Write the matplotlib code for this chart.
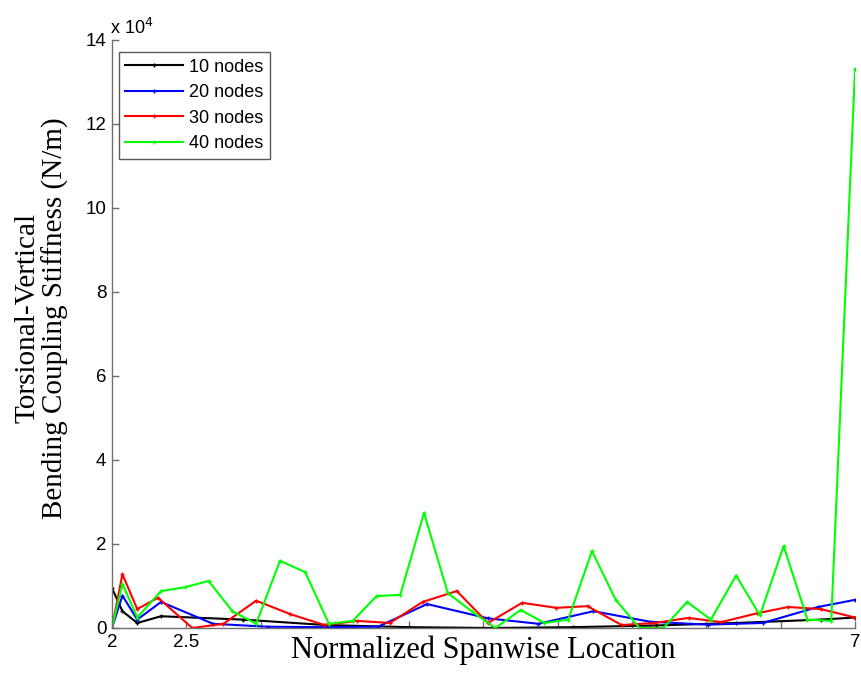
import matplotlib
matplotlib.use("Agg")
import matplotlib.pyplot as plt
import numpy as np

# Data (stiffness values in N/m)
x_10 = [2.0, 2.07, 2.17, 2.33, 2.88, 3.44, 4.0, 4.55, 5.1, 5.66, 6.2, 6.77, 7.0]
y_10 = [9500, 4000, 1200, 2800, 2000, 700, 200, 0, 200, 600, 1200, 2000, 2500]

x_20 = [2.0, 2.07, 2.17, 2.33, 2.68, 3.05, 3.42, 3.79, 4.12, 4.53, 4.87, 5.24, 5.62, 6.01, 6.38, 6.75, 7.0]
y_20 = [0, 7700, 2000, 6200, 1000, 300, 200, 300, 5700, 2300, 1000, 4000, 1500, 800, 1200, 5000, 6700]

x_30 = [2.0, 2.07, 2.17, 2.31, 2.54, 2.75, 2.97, 3.20, 3.43, 3.65, 3.87, 4.09, 4.32, 4.53, 4.76, 4.99, 5.20, 5.43, 5.65, 5.88, 6.10, 6.34, 6.55, 6.77, 7.0]
y_30 = [0, 12800, 4500, 7200, 0, 1000, 6500, 3300, 700, 1700, 1200, 6200, 8800, 1200, 6000, 4800, 5200, 700, 1200, 2400, 1400, 3500, 5000, 4500, 2500]

x_40 = [2.0, 2.07, 2.17, 2.33, 2.49, 2.65, 2.81, 2.97, 3.13, 3.30, 3.46, 3.62, 3.78, 3.94, 4.10, 4.26,
        4.42, 4.58, 4.75, 4.91, 5.07, 5.23, 5.39, 5.55, 5.71, 5.87, 6.03, 6.20, 6.36, 6.52, 6.68, 6.84, 7.0]
y_40 = [0, 10500, 2500, 8800, 9700, 11200, 4000, 1000, 16000, 13300, 1000, 1700, 7600, 7900, 27400, 8300,
        4000, 0, 4300, 1200, 2000, 18300, 6700, 0, 0, 6200, 2000, 12500, 3000, 19500, 2000, 1700, 133000]

labels = ["10 nodes", "20 nodes", "30 nodes", "40 nodes"]
colors = ["#000000", "#0000ff", "#ff0000", "#00ff00"]
xticks = [2, 2.5, 3, 3.5, 4, 4.5, 5, 5.5, 6, 6.5, 7]
# in the original only these tick labels are visible (the x label covers the rest)
xtick_labels = ["2", "2.5", "", "", "", "", "", "", "", "", "7"]
yticks = [0, 2, 4, 6, 8, 10, 12, 14]
scale = 1e4

fig = plt.figure(figsize=(8.61, 6.96), dpi=100)
ax = fig.add_axes([112/861, 1 - 628/696, (855-112)/861, (628-40)/696])

for xs, ys, lab, c in zip([x_10, x_20, x_30, x_40], [y_10, y_20, y_30, y_40], labels, colors):
    ax.plot(xs, np.array(ys) / scale, color=c, lw=1.5, marker='+', ms=3, mew=1, label=lab)

ax.set_xlim(2, 7)
ax.set_ylim(0, 14)
ax.set_xticks(xticks)
ax.set_xticklabels(xtick_labels)
ax.set_yticks(yticks)
ax.tick_params(direction='in', length=5, width=1, color='#707070',
               labelsize=13.5, labelcolor='black', pad=4)
for lbl in ax.get_xticklabels() + ax.get_yticklabels():
    lbl.set_family('Liberation Sans')
ax.spines['top'].set_visible(False)
ax.spines['right'].set_visible(False)
for s in ['left', 'bottom']:
    ax.spines[s].set_color('#707070')
    ax.spines[s].set_linewidth(1)

ax.text(-0.003, 1.003, r"x 10$^{4}$", transform=ax.transAxes, fontsize=13,
        family='Liberation Sans', ha='left', va='bottom')

xl = ax.set_xlabel("Normalized Spanwise Location", fontsize=22, family='Liberation Serif',
                   va='center')
ax.xaxis.set_label_coords(0.5, -(650 - 628) / 588)

ax.set_ylabel("Torsional-Vertical\nBending Coupling Stiffness (N/m)", fontsize=21,
              family='Liberation Serif', linespacing=1.05)
ax.yaxis.set_label_coords(-0.058, (628 - 318) / 588)

leg = ax.legend(loc='upper left', bbox_to_anchor=(0.004, 0.985), frameon=True, fancybox=False,
                edgecolor='#303030', prop={'family': 'Liberation Sans', 'size': 13},
                handlelength=3.2, handletextpad=0.35, borderpad=0.35, labelspacing=0.47,
                borderaxespad=0.2)
leg.get_frame().set_linewidth(1)

fig.savefig("out.png", dpi=100)
